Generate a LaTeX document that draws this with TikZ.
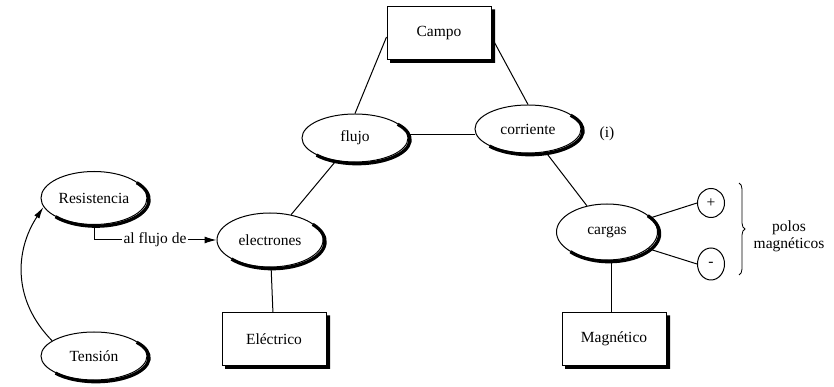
\documentclass[tikz,border=0pt]{standalone}
\usepackage{fontspec}
\setmainfont{Liberation Serif}
\usetikzlibrary{shapes.geometric,arrows.meta,decorations.pathreplacing}
\begin{document}
\begin{tikzpicture}[x=1pt,y=1pt,
  font=\fontsize{15.5}{18}\selectfont,
  line width=1pt,
  oval/.style={ellipse,draw,fill=white,inner sep=0pt,minimum width=106pt,minimum height=48pt},
  box/.style={rectangle,draw,fill=white,inner sep=0pt,minimum width=104pt,minimum height=53pt},
  pole/.style={ellipse,draw,fill=white,inner sep=0pt,minimum width=27pt,minimum height=29pt},
  conn/.style={line width=1pt},
  shadowline/.style={draw=black,line width=3.3pt,line join=miter},
  shadowfill/.style={fill=black}]
\useasboundingbox (0,0) rectangle (834,387);
% nodes
\node[box] (campo) at (439,354) {Campo};
\node[oval] (flujo) at (355,249) {flujo};
\node[oval] (corriente) at (528,258) {corriente};
\node (i) at (607,253) {(i)};
\node[oval,minimum height=53pt] (resist) at (94,189) {Resistencia};
\node[oval] (tension) at (94,31) {Tensión};
\node[oval,minimum height=54pt] (electrones) at (270,147) {electrones};
\node[box] (electrico) at (274,48) {Eléctrico};
\node[oval,minimum width=101pt,minimum height=56pt] (cargas) at (607,155) {cargas};
\node[pole] (plus) at (711,184) {+};
\node[pole,minimum height=32pt] (minus) at (711,123) {-};
\node[box] (magnetico) at (614,48) {Magnético};
\node[align=center,inner sep=0pt] (polos) at (789,151) {polos\\[-1pt]magnéticos};
\node[inner sep=1pt] (alflujo) at (155,147) {al flujo de};
\coordinate (h) at (0,252);
% shadows of the ovals
\foreach \n/\a/\b in {flujo/53/24, corriente/53/24, resist/53/26.5, tension/53/24,
  electrones/53/27, cargas/50.5/28}
  \draw[shadowline] ([shift={({2.1+\a*cos(40)},{-1.7+\b*sin(40)})}]\n.center)
     arc[start angle=40,end angle=-140,x radius=\a,y radius=\b];
% shadows of the boxes (L-shaped black bands)
\foreach \x/\y in {439/354, 274/48, 614/48}
  \fill[shadowfill] (\x+52.5,\y+23.5) -- (\x+56,\y+23.5) -- (\x+56,\y-30)
     -- (\x-49,\y-30) -- (\x-49,\y-26.5) -- (\x+52.5,\y-26.5) -- cycle;
% connectors
\draw[conn] (campo.west) ++(0,-4) coordinate (cw) (cw) -- (flujo.north);
\draw[conn] (campo.east) ++(0,-4) coordinate (ce) (ce) -- (corriente.north);
\draw[conn] (flujo.east |- h) -- (corriente.west |- h);
\draw[conn] (flujo) -- (electrones);
\draw[conn] (corriente) -- (cargas);
\draw[conn] (electrones) -- (electrico);
\draw[conn] (cargas.south) ++(4,0) coordinate (cs) (cs) -- (magnetico.north -| cs);
\draw[conn] (cargas.18) -- (plus.west);
\draw[conn] (cargas.-22) -- (minus.west);
\draw[conn] (resist.south) -- (resist.south |- alflujo.west) -- (alflujo.west);
\draw[conn,-{Latex[length=12pt,width=7pt]}] (alflujo.east) -- (electrones.west);
\draw[conn,-{Latex[length=12pt,width=6pt]}] (tension.160) .. controls (12,87) and (15,137) .. (resist.190);
\draw[line width=0.8pt,decorate,decoration={brace,amplitude=6pt}] (739,204) -- (739,112);
\end{tikzpicture}
\end{document}
